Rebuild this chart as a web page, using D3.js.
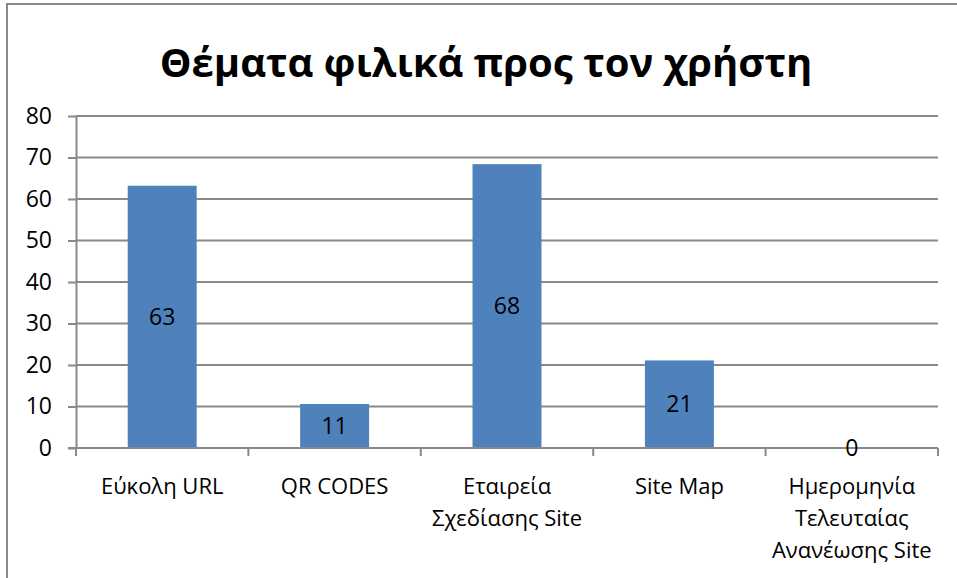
<!DOCTYPE html>
<html>
<head>
<meta charset="utf-8">
<script src="https://cdn.jsdelivr.net/npm/d3@7"></script>
<style>
  body { margin: 0; background: #fff; }
  svg { display: block; font-family: 'Open Sans', 'Noto Sans', sans-serif; }
  .grid line { stroke: #898989; stroke-width: 2; }
  .axis path, .axis line { stroke: #898989; stroke-width: 2; }
</style>
</head>
<body>
<div id="chart"></div>
<script>
// data
const title = 'Θέματα φιλικά προς τον χρήστη'
const categories = ['Εύκολη URL', 'QR CODES', 'Εταιρεία Σχεδίασης Site', 'Site Map', 'Ημερομηνία Τελευταίας Ανανέωσης Site']
const categoryLines = [['Εύκολη URL'], ['QR CODES'], ['Εταιρεία', 'Σχεδίασης Site'], ['Site Map'], ['Ημερομηνία', 'Τελευταίας', 'Ανανέωσης Site']]
const values = [63.2, 10.6, 68.4, 21.1, 0]
const yTicks = [0, 10, 20, 30, 40, 50, 60, 70, 80]

const width = 957
const height = 578
const plotLeft = 76, plotRight = 938, plotTop = 116, plotBottom = 448

const svg = d3.select('#chart')
    .append('svg')
    .attr('width', width)
    .attr('height', height)

// outer frame
svg.append('rect')
    .attr('x', 7).attr('y', 4)
    .attr('width', 1000).attr('height', 1000)
    .attr('fill', 'none')
    .attr('stroke', '#898989')
    .attr('stroke-width', 2)

// title
svg.append('text')
    .attr('x', 486)
    .attr('y', 77)
    .attr('text-anchor', 'middle')
    .style('font-size', '40px')
    .style('font-weight', 'bold')
    .text(title)

const x = d3.scaleBand()
    .domain(categories)
    .range([plotLeft, plotRight])
    .paddingInner(0.6)
    .paddingOuter(0.3)

const y = d3.scaleLinear()
    .domain([0, 80])
    .range([plotBottom, plotTop])

// gridlines
svg.append('g')
    .attr('class', 'grid')
    .selectAll('line')
    .data(yTicks.filter((d) => d > 0))
    .enter()
    .append('line')
    .attr('x1', plotLeft).attr('x2', plotRight)
    .attr('y1', (d) => y(d)).attr('y2', (d) => y(d))

// y axis
const yAxis = svg.append('g')
    .attr('class', 'axis')
    .attr('transform', `translate(${plotLeft},0)`)
    .call(d3.axisLeft(y).tickValues(yTicks).tickSize(8).tickPadding(16).tickSizeOuter(0))
yAxis.selectAll('text')
    .style('font-size', '23px')
    .style('font-family', "'Open Sans', sans-serif")
    .attr('fill', '#000')

// bars
svg.append('g')
    .selectAll('rect')
    .data(values)
    .enter()
    .append('rect')
    .attr('x', (d, i) => x(categories[i]))
    .attr('y', (d) => y(d))
    .attr('width', x.bandwidth())
    .attr('height', (d) => y(0) - y(d))
    .attr('fill', '#4f81bd')

// x axis line with boundary ticks
const step = x.step()
const start = x(categories[0]) - step * x.paddingOuter()
const bounds = d3.range(categories.length + 1).map((i) => start + i * step)
const xAxis = svg.append('g').attr('class', 'axis')
xAxis.append('line')
    .attr('x1', plotLeft - 8).attr('x2', plotRight)
    .attr('y1', y(0)).attr('y2', y(0))
xAxis.selectAll('line.tick')
    .data(bounds)
    .enter()
    .append('line')
    .attr('class', 'tick')
    .attr('x1', (d) => d).attr('x2', (d) => d)
    .attr('y1', y(0)).attr('y2', y(0) + 8)

// category labels
const labels = svg.append('g')
    .selectAll('text')
    .data(categories)
    .enter()
    .append('text')
    .attr('x', (d) => x(d) + x.bandwidth() / 2)
    .attr('y', 494)
    .attr('text-anchor', 'middle')
    .style('font-size', '22px')
labels.selectAll('tspan')
    .data((d, i) => categoryLines[i])
    .enter()
    .append('tspan')
    .attr('x', function () { return this.parentNode.getAttribute('x') })
    .attr('dy', (d, i) => i === 0 ? 0 : 32)
    .text((d) => d)

// data labels
svg.append('g')
    .selectAll('text')
    .data(values)
    .enter()
    .append('text')
    .attr('x', (d, i) => x(categories[i]) + x.bandwidth() / 2)
    .attr('y', (d) => (y(d) + y(0)) / 2)
    .attr('dy', '0.36em')
    .attr('text-anchor', 'middle')
    .style('font-size', '23px')
    .text((d) => d3.format('.0f')(d))
</script>
</body>
</html>
